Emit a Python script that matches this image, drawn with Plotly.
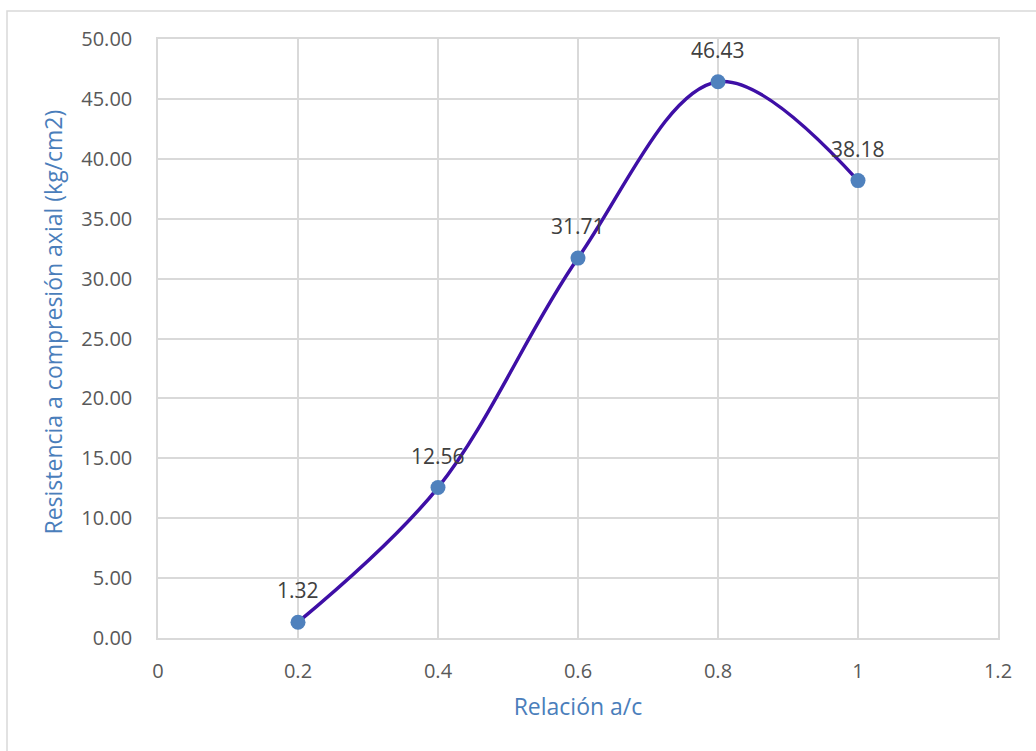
import plotly.graph_objects as go

x_vals = [0.2, 0.4, 0.6, 0.8, 1.0]
y_vals = [1.32, 12.56, 31.71, 46.43, 38.18]
labels = ["1.32", "12.56", "31.71", "46.43", "38.18"]
x_ticks = [0, 0.2, 0.4, 0.6, 0.8, 1.0, 1.2]
x_ticktext = ["0", "0.2", "0.4", "0.6", "0.8", "1", "1.2"]
y_ticks = [0, 5, 10, 15, 20, 25, 30, 35, 40, 45, 50]
y_ticktext = [f"{v:.2f}" for v in y_ticks]
y_title = "Resistencia a compresión axial (kg/cm2)"
x_title = "Relación a/c"

FONT = "Open Sans, Carlito, Calibri, sans-serif"

fig = go.Figure()
fig.add_trace(go.Scatter(
    x=x_vals, y=y_vals, mode="lines+markers",
    line=dict(shape="spline", smoothing=1.0, color="#3e0fa6", width=3.5),
    marker=dict(size=15, color="#4f81bd"),
    cliponaxis=False, showlegend=False,
))

annotations = [
    dict(x=xv, y=yv, text=t, showarrow=False, xref="x", yref="y",
         yshift=32, font=dict(family=FONT, size=21, color="#404040"))
    for xv, yv, t in zip(x_vals, y_vals, labels)
]
annotations.append(dict(
    x=(53 - 158) / 840, y=(638 - 322) / 600, xref="paper", yref="paper",
    text=y_title, textangle=-90, showarrow=False, xanchor="center", yanchor="middle",
    font=dict(family=FONT, size=23, color="#4a7ebb"),
))

grid = "#d9d9d9"
fig.update_layout(
    width=1036, height=751,
    margin=dict(l=158, r=38, t=39, b=113),
    paper_bgcolor="white", plot_bgcolor="white",
    font=dict(family=FONT, size=20, color="#595959"),
    xaxis=dict(range=[0, 1.2], tickvals=x_ticks, ticktext=x_ticktext,
               showgrid=True, gridcolor=grid, gridwidth=1.5, zeroline=False,
               showline=True, linecolor=grid, linewidth=1.5, mirror=True,
               ticks="", ticklabelstandoff=14,
               title=dict(text=x_title, font=dict(family=FONT, size=23, color="#4a7ebb"), standoff=16),
               tickfont=dict(family=FONT, size=20, color="#595959")),
    yaxis=dict(range=[0, 50], tickvals=y_ticks, ticktext=y_ticktext,
               showgrid=True, gridcolor=grid, gridwidth=1.5, zeroline=False,
               showline=True, linecolor=grid, linewidth=1.5, mirror=True,
               ticks="", ticklabelstandoff=20,
               tickfont=dict(family=FONT, size=20, color="#595959")),
    annotations=annotations,
    shapes=[dict(type="rect", xref="paper", yref="paper",
                 x0=(7 - 158) / 840, x1=(1045 - 158) / 840,
                 y0=(638 - 760) / 600, y1=(638 - 10) / 600,
                 line=dict(color="#d9d9d9", width=1.5), layer="below")],
)

fig.write_html("out.html")
